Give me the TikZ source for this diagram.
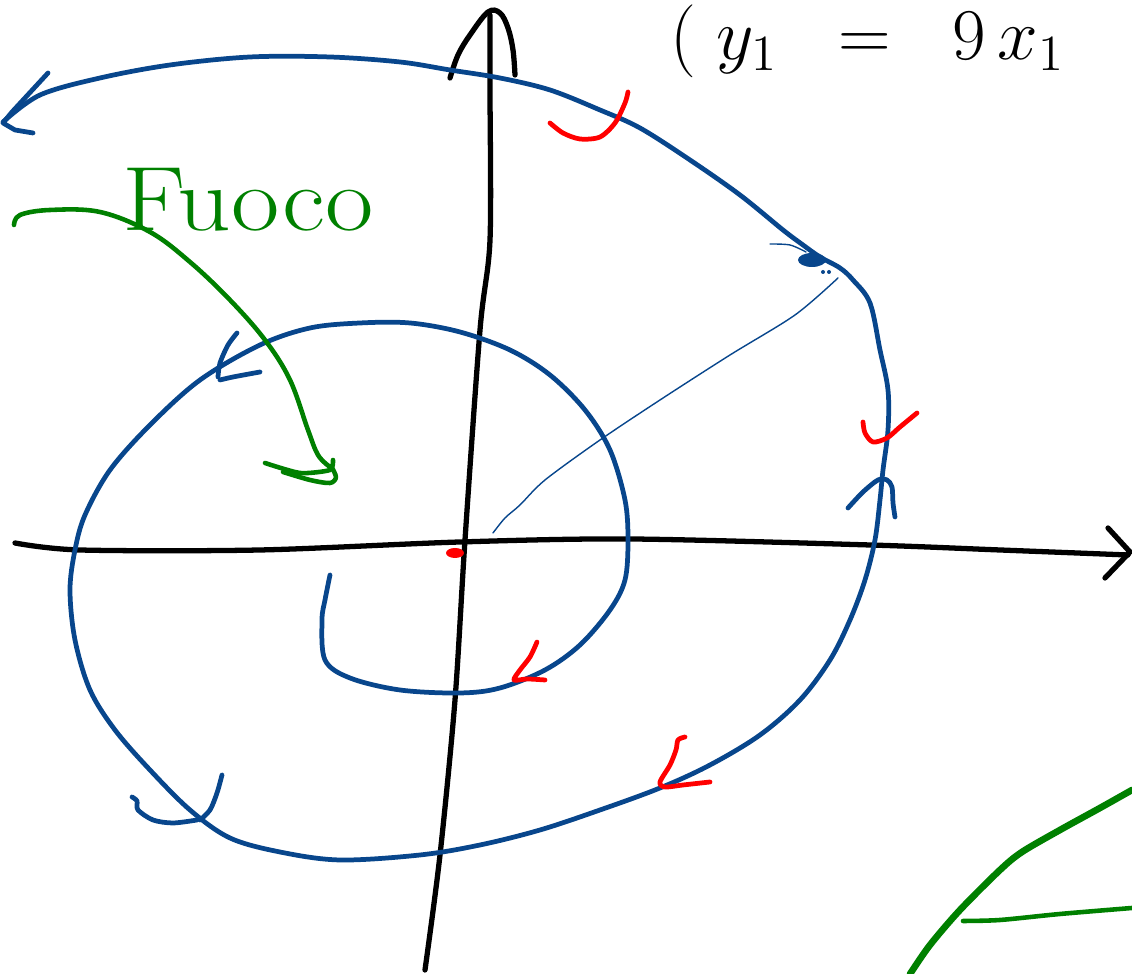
\documentclass[tikz,border=0pt]{standalone}
\usepackage{amsmath}
\usepackage{xcolor}
\usepackage{tikz}
\usetikzlibrary{positioning}

\definecolor{penblue}{RGB}{8,70,140}
\definecolor{penred}{RGB}{255,0,0}
\definecolor{pengreen}{RGB}{0,128,0}

\begin{document}
\begin{tikzpicture}[
  x=0.01cm, y=-0.01cm,
  line cap=round, line join=round,
  axisline/.style={draw=black, line width=1.5pt},
  traj/.style={draw=penblue, line width=1.35pt},
  hair/.style={draw=penblue, line width=0.4pt},
  redtick/.style={draw=penred, line width=1.35pt},
  greenpen/.style={draw=pengreen, line width=1.3pt}
]
\useasboundingbox (0,0) rectangle (1132,974);

% axes
\draw[axisline] plot[smooth, tension=0.5] coordinates
  {(15,543) (80,550) (260,550) (460,542) (630,539) (870,545) (1000,550) (1128,555)};
\draw[axisline] (1108,528) -- (1130,552) -- (1105,578);
\draw[axisline] plot[smooth, tension=0.5] coordinates
  {(425,970) (440,855) (455,700) (465,540) (480,330) (490,240) (490,90) (490,15)};
\draw[axisline] plot[smooth, tension=0.6] coordinates
  {(450,78) (458,55) (470,35) (488,12) (500,13) (508,28) (513,50) (515,75)};

% equation
\node (eq) [anchor=base west, inner sep=0pt, font=\fontsize{22}{26}\selectfont]
  at (670,60) {$(\;y_1 \;\;=\;\; 9\,x_1$};

% spiral trajectory
\draw[traj] plot[smooth, tension=0.55] coordinates
  {(3,122) (40,95) (100,78) (170,65) (250,57) (330,57) (400,62) (450,70)
   (500,78) (550,90) (600,110) (640,128) (690,160) (740,195) (783,230)
   (803,245) (820,257) (840,268) (853,280) (870,303) (880,350) (888,390)
   (888,430) (883,470) (880,500) (875,540) (865,580) (850,620) (830,660)
   (800,700) (760,735) (710,765) (660,788) (600,810) (540,830) (480,845)
   (420,855) (340,860) (280,852) (230,838) (190,810) (150,770) (115,730)
   (90,690) (75,640) (70,590) (75,550) (85,515) (110,470) (150,425)
   (200,380) (260,345) (310,328) (360,323) (410,323) (460,332) (510,350)
   (550,375) (585,410) (610,450) (625,500) (628,540) (625,580) (610,610)
   (580,645) (545,670) (500,688) (460,693) (400,690) (350,678) (325,660)
   (322,620) (325,600) (330,575)};

% blue arrow heads
\draw[traj] (48,73) -- (12,112) -- (3,123) -- (15,130) -- (33,133);
\draw[traj] plot[smooth] coordinates
  {(848,508) (863,492) (878,480) (887,480) (892,487) (893,503) (895,517)};
\draw[traj] plot[smooth] coordinates {(237,333) (228,345) (220,363) (218,377)};
\draw[traj] plot[smooth] coordinates {(220,380) (233,377) (260,372)};
\draw[traj] plot[smooth] coordinates
  {(132,797) (137,801) (138,810) (153,820) (173,823) (197,820)};
\draw[traj] plot[smooth] coordinates {(222,775) (217,793) (210,810) (200,820)};

% point on the trajectory and its radius
\fill[penblue] (812,260) ellipse (14 and 7);
\fill[penblue] (823,272) circle (2);
\fill[penblue] (829,272) circle (2);
\draw[hair] plot[smooth] coordinates {(770,244) (790,245) (806,252)};
\draw[hair] plot[smooth, tension=0.5] coordinates
  {(838,278) (795,315) (730,355) (660,400) (600,440) (545,480) (520,505)
   (505,518) (493,533)};

% red direction marks
\fill[penred] (455,553) ellipse (9 and 5);
\draw[redtick] plot[smooth] coordinates
  {(550,123) (563,133) (580,139) (600,137) (615,123) (625,103) (628,92)};
\draw[redtick] plot[smooth] coordinates
  {(863,422) (865,433) (873,442) (887,438) (900,427) (917,413)};
\draw[redtick] plot[smooth] coordinates
  {(537,642) (530,657) (520,670) (514,680) (527,679) (545,680)};
\draw[redtick] plot[smooth] coordinates
  {(685,737) (678,740) (676,750) (670,765) (660,782) (665,787) (683,785) (710,782)};

% focus label
\node (fuoco) [text=pengreen, inner sep=0pt, font=\fontsize{26}{30}\selectfont,
  xscale=1.15] at (248,200) {Fuoco};
\draw[greenpen] plot[smooth, tension=0.6] coordinates
  {(14,225) (20,215) (50,210) (100,212) (150,232) (190,262) (230,300)
   (265,340) (290,380) (308,430) (318,455) (330,467)};
\draw[greenpen] plot[smooth, tension=0.4] coordinates
  {(265,463) (300,473) (330,470) (333,460)};
\draw[greenpen] plot[smooth, tension=0.5] coordinates
  {(283,472) (310,480) (330,483) (336,477) (331,466)};

% corner sketch
\draw[draw=pengreen, line width=1.9pt] plot[smooth, tension=0.5] coordinates
  {(910,974) (930,945) (960,910) (1000,870) (1022,852) (1060,830) (1100,808) (1132,790)};
\draw[greenpen] plot[smooth] coordinates {(963,921) (1000,920) (1060,914) (1132,908)};

\end{tikzpicture}
\end{document}
